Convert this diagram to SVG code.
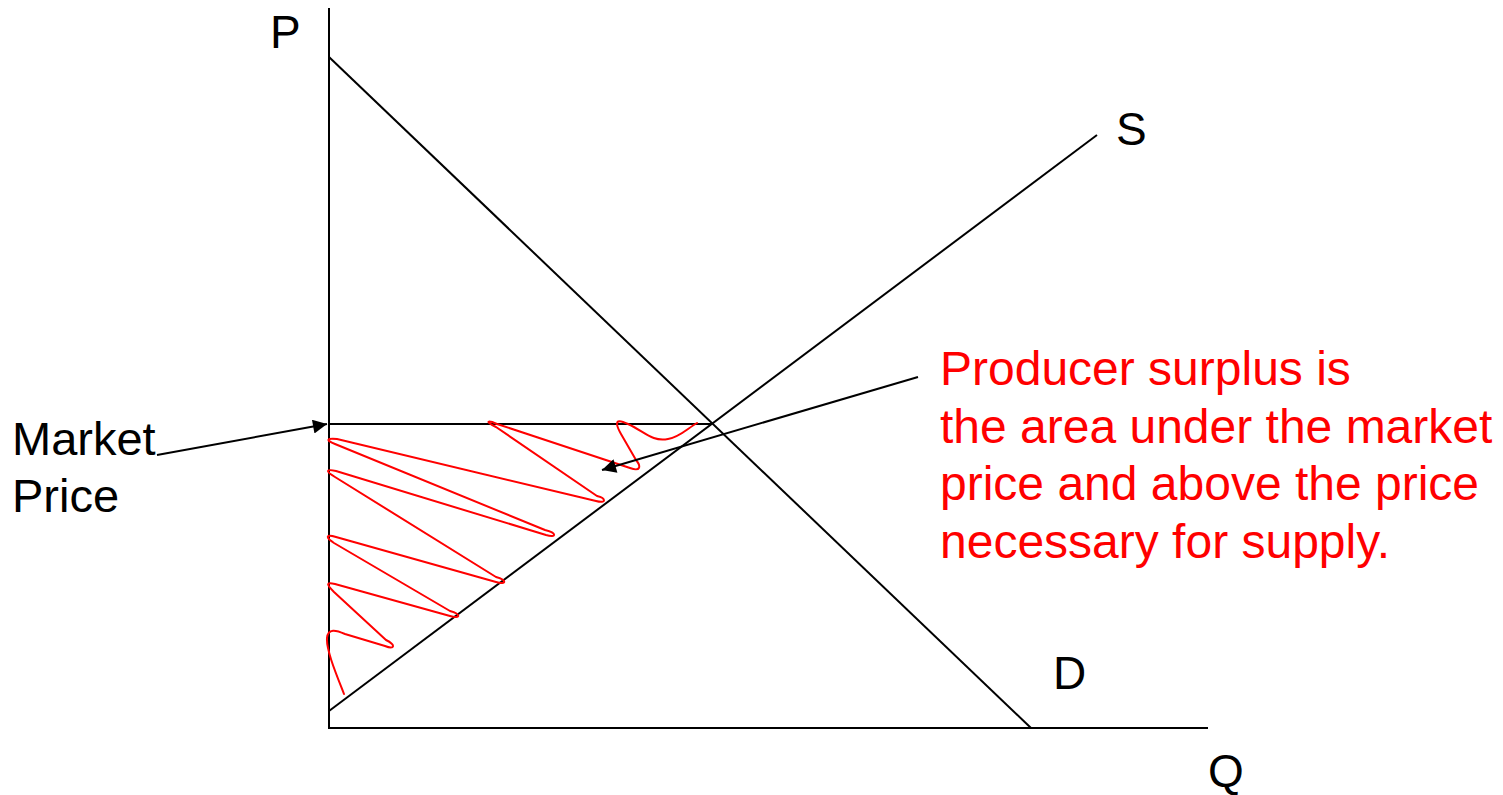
<svg xmlns="http://www.w3.org/2000/svg" width="1503" height="795" viewBox="0 0 1503 795">
<style>
.ln{stroke:#000;stroke-width:2;fill:none}
.lbl{font-family:"Liberation Sans",Arial,sans-serif;font-size:46px;fill:#000}
.mk{font-family:"Liberation Sans",Arial,sans-serif;font-size:47px;fill:#000}
.red{font-family:"Liberation Sans",Arial,sans-serif;font-size:48px;fill:#ff0000}
.scr{stroke:#ff0000;stroke-width:2;fill:none;stroke-linejoin:round;stroke-linecap:round}
</style>
<defs>
<marker id="ah" viewBox="0 0 10 10" refX="10" refY="5" markerWidth="8" markerHeight="7" markerUnits="strokeWidth" orient="auto">
<path d="M0,0 L10,5 L0,10 z" fill="#000"/>
</marker>
</defs>
<rect width="1503" height="795" fill="#fff"/>
<g id="axes">
<line class="ln" x1="329" y1="8" x2="329" y2="728"/>
<line class="ln" x1="328" y1="728" x2="1208" y2="728"/>
<text class="lbl" x="270" y="48">P</text>
<text class="lbl" x="1208" y="787">Q</text>
</g>
<g id="demand">
<line class="ln" x1="329" y1="57" x2="1031" y2="728"/>
<text class="lbl" x="1053" y="689">D</text>
</g>
<g id="supply">
<line class="ln" x1="329" y1="711" x2="1097" y2="135"/>
<text class="lbl" x="1116" y="145">S</text>
</g>
<g id="market-price-line">
<line class="ln" x1="329" y1="424" x2="712" y2="424"/>
</g>
<g id="surplus-scribble">
<path class="scr" d="M344,694 C337,676 326,650 327,638 C328,628 336,630 345,634 L385,646 C395,650 396,645 386,640 L334,592 C326,584 326,582 335,584 L450,616 C461,619 461,614 450,611 L334,543 C325,537 326,534 336,537 L496,582 C507,585 507,580 496,577 L335,477 C325,471 326,469 336,471 L546,535 C557,538 557,533 545,530 L335,444 C325,440 327,438 337,439 L596,501 C607,504 606,498 597,496 L496,427 C484,421 488,420 497,424 L630,468 C641,472 641,466 636,460 L621,434 C612,418 620,420 628,424 C645,432 652,442 668,439 C680,437 688,428 697,423"/>
</g>
<g id="market-price-label">
<text class="mk" x="12" y="455">Market</text>
<text class="mk" x="12" y="512">Price</text>
</g>
<g id="producer-surplus-label">
<text class="red" x="940" y="385">Producer surplus is</text>
<text class="red" x="940" y="443">the area under the market</text>
<text class="red" x="940" y="500">price and above the price</text>
<text class="red" x="940" y="558">necessary for supply.</text>
</g>
<g id="connectors">
<line class="ln" x1="157" y1="455" x2="327" y2="424" marker-end="url(#ah)"/>
<line class="ln" x1="918" y1="377" x2="602" y2="470" marker-end="url(#ah)"/>
</g>
</svg>
